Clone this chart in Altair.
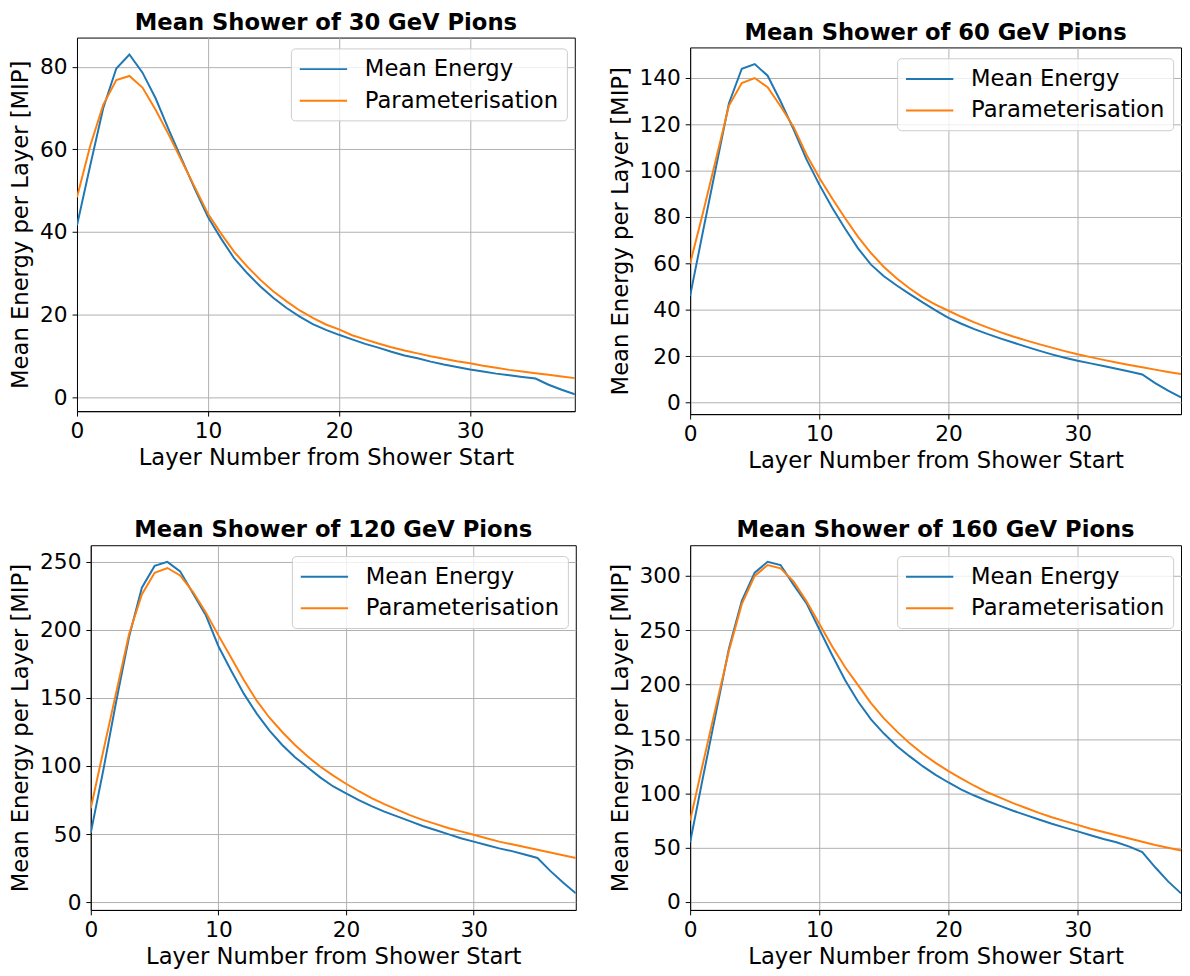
import altair as alt
import pandas as pd

layers = list(range(39))
series_names = ["Mean Energy", "Parameterisation"]
series_colors = ["#1f77b4", "#ff7f0e"]
x_title = "Layer Number from Shower Start"
y_title = "Mean Energy per Layer [MIP]"

titles = [
    "Mean Shower of 30 GeV Pions",
    "Mean Shower of 60 GeV Pions",
    "Mean Shower of 120 GeV Pions",
    "Mean Shower of 160 GeV Pions",
]

e30_mean = [41.6, 56, 70, 79.6, 83, 78.6, 72.4, 64.8, 57.6, 50.4, 43.6, 38.4, 33.6, 30, 26.8,
            24, 21.6, 19.5, 17.7, 16.3, 15.1, 14.0, 12.9, 12.0, 11.0, 10.1, 9.4, 8.6, 7.9, 7.3,
            6.7, 6.2, 5.7, 5.3, 4.9, 4.5, 3.0, 1.8, 0.7]
e30_param = [48.4, 60.8, 70.8, 76.8, 77.8, 75, 69.6, 63.6, 57.2, 50.8, 44.4, 39.6, 35.2, 31.6, 28.4,
             25.6, 23.2, 21, 19.2, 17.6, 16.4, 15, 14.0, 13.0, 12.1, 11.3, 10.6, 9.9, 9.3, 8.7,
             8.2, 7.6, 7.1, 6.6, 6.2, 5.8, 5.4, 5.0, 4.6]

e60_mean = [46, 74, 101.5, 129, 144, 146, 141, 130, 118, 105, 94, 84, 75, 66.5, 59.5,
            54.5, 50.5, 46.8, 43.2, 39.8, 36.5, 34, 31.7, 29.6, 27.7, 25.9, 24.1, 22.4, 20.8, 19.3,
            18, 16.9, 15.8, 14.6, 13.4, 12.1, 8.4, 5.1, 2.2]
e60_param = [60, 82, 105, 128, 137.8, 140, 136, 127.8, 119, 107, 97, 88, 79.5, 71.5, 64.5,
             58.5, 53.5, 49.2, 45.4, 42.2, 39.6, 37, 34.6, 32.4, 30.4, 28.5, 26.8, 25.2, 23.7, 22.2,
             20.8, 19.6, 18.4, 17.3, 16.2, 15.2, 14.2, 13.2, 12.3]

e120_mean = [51, 98, 148, 195, 231, 247, 250, 243, 227, 211, 188, 170, 153, 138.5, 126,
             115.5, 106.5, 99, 91.5, 85, 80, 75, 70.5, 66.5, 63, 59.5, 56, 53, 50, 47,
             44.5, 42, 39.5, 37.5, 35, 32.5, 23, 14.5, 6.5]
e120_param = [69, 112, 154.5, 197, 226, 242, 245.5, 240, 228, 213, 196, 179.5, 163, 148, 135.5,
              125, 115.5, 107, 99.5, 93, 87, 81.5, 76.5, 72, 68, 64, 60.5, 57.5, 54.5, 52,
              49.5, 47, 44.5, 42.5, 40.5, 38.5, 36.5, 34.5, 32.5]

e160_mean = [55, 115, 174, 233, 277, 303, 313, 310, 292, 275, 251, 227, 204, 184.5, 168,
             155, 143.5, 134, 125, 117, 110, 103.5, 98, 93, 88.5, 84, 80, 76, 72, 68.5,
             65, 61.5, 58, 55, 51, 46, 32, 19, 8]
e160_param = [75, 128, 180, 231, 274, 300, 310, 307, 295, 277, 256, 235, 216, 199.5, 183,
              169, 157, 146, 136.5, 128, 120.5, 113.5, 107, 101, 96, 91, 86.5, 82, 78, 74.5,
              71, 67.5, 64.5, 61.5, 58.5, 55.5, 52.5, 50, 47.5]

y_ticks = [
    [0, 20, 40, 60, 80],
    [0, 20, 40, 60, 80, 100, 120, 140],
    [0, 50, 100, 150, 200, 250],
    [0, 50, 100, 150, 200, 250, 300],
]
y_domains = [[-3.4, 87.1], [-5.0, 153.2], [-5.7, 262.2], [-7.25, 328.25]]
sizes = [(505, 379), (498, 372), (492, 370), (498, 370)]

FONT = "DejaVu Sans"
LEGEND_W = 278


def panel(title, mean, param, ydom, yt, size):
    df = pd.DataFrame({
        "layer": layers + layers,
        "energy": mean + param,
        "series": [series_names[0]] * len(layers) + [series_names[1]] * len(layers),
    })
    return alt.Chart(
        df,
        title=alt.TitleParams(title, anchor="middle", font=FONT, fontSize=23,
                              fontWeight="bold", color="black", offset=3),
    ).mark_line(strokeWidth=2, clip=True).encode(
        x=alt.X("layer:Q",
                scale=alt.Scale(domain=[0, 38], nice=False, zero=False),
                axis=alt.Axis(values=[0, 10, 20, 30], title=x_title, labelFlush=False)),
        y=alt.Y("energy:Q",
                scale=alt.Scale(domain=ydom, nice=False, zero=False),
                axis=alt.Axis(values=yt, title=y_title)),
        color=alt.Color("series:N",
                        scale=alt.Scale(domain=series_names, range=series_colors),
                        legend=alt.Legend(title=None, orient="none",
                                          legendX=size[0] - 10 - LEGEND_W, legendY=11)),
    ).properties(width=size[0], height=size[1])


def spacer(w, h):
    # empty, invisible cell used only to shape the layout
    return alt.Chart(pd.DataFrame({"v": [0]})).mark_point(
        opacity=0, size=0, strokeWidth=0
    ).encode(
        x=alt.value(w / 2), y=alt.value(h / 2)
    ).properties(width=w, height=h,
                 view=alt.ViewBackground(stroke="transparent", strokeOpacity=0))


def indep(c):
    return c.resolve_scale(x="independent", y="independent").resolve_legend(color="independent")


charts = [panel(titles[i], [e30_mean, e60_mean, e120_mean, e160_mean][i],
                [e30_param, e60_param, e120_param, e160_param][i],
                y_domains[i], y_ticks[i], sizes[i]) for i in range(4)]

col1 = indep(alt.vconcat(spacer(1, 1), charts[0], spacing=0))
col2 = indep(alt.vconcat(spacer(1, 11), charts[1], spacing=0))

row1 = indep(alt.hconcat(spacer(1, 1), col1, spacer(33, 1), col2, spacing=0))
row2 = indep(alt.hconcat(spacer(1, 1), charts[2], spacer(32, 1), charts[3], spacing=0))

chart = indep(alt.vconcat(row1, row2, spacing=46)).properties(
    padding={"left": 0, "top": -5, "right": 0, "bottom": 0}
).configure_axis(
    labelFont=FONT, labelFontSize=22, labelColor="black",
    titleFont=FONT, titleFontSize=23, titleFontWeight="normal", titleColor="black",
    domainColor="black", domainWidth=1, tickColor="black", tickSize=5, tickWidth=1,
    gridColor="#b0b0b0", gridWidth=1,
).configure_axisY(titlePadding=7, labelPadding=5).configure_axisX(
    titlePadding=5, labelPadding=5
).configure_view(
    stroke="black", strokeWidth=1
).configure_legend(
    labelFont=FONT, labelFontSize=23, labelColor="black", labelLimit=400,
    labelOffset=41, symbolType="M-1,0H3", symbolSize=576, symbolStrokeWidth=2,
    rowPadding=7, padding=8, strokeColor="#cccccc", cornerRadius=4,
    fillColor="rgba(255,255,255,0.8)",
)

chart.save("out.html", embed_options={"renderer": "svg", "actions": False})
